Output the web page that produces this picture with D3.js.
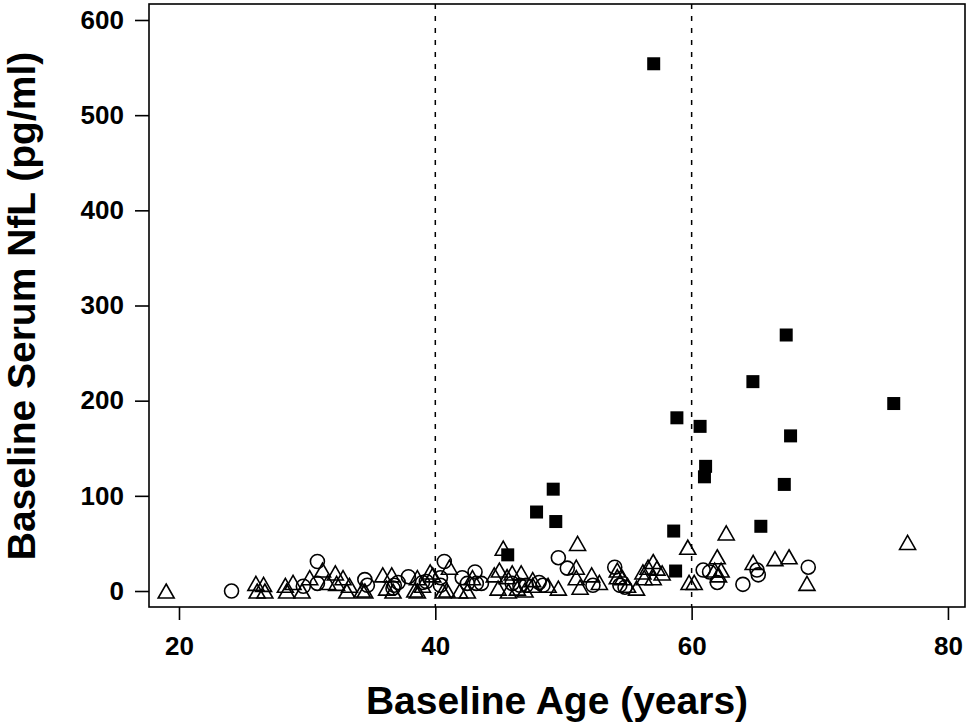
<!DOCTYPE html>
<html><head><meta charset="utf-8">
<script src="https://cdn.jsdelivr.net/npm/d3@7"></script>
<style>body{margin:0;background:#fff}svg{display:block}</style>
</head><body>
<svg id="c" width="970" height="727"></svg>
<script>
// ---- data ----
const xTicks = [20, 40, 60, 80];
const yTicks = [0, 100, 200, 300, 400, 500, 600];
const cutoffs = [40, 60];
const xTitle = "Baseline Age (years)";
const yTitle = "Baseline Serum NfL (pg/ml)";

const squareAge = [45.65, 47.9, 49.2, 49.4, 57.04, 58.6, 58.75, 58.85, 60.66, 61.09, 61.0, 64.78, 65.4, 67.23, 67.38, 67.72, 75.77];
const squareNfl = [38, 83, 107, 73, 554, 63, 21, 182, 173, 131, 120, 220, 68, 112, 269, 163, 197];

const circleAge = [24.1, 29.7, 30.8, 30.8, 34.5, 34.7, 36.8, 37.1, 36.7, 37.9, 39.0, 39.3, 40.4, 40.4, 40.7, 42.1, 42.5, 43.1, 43.2, 43.6, 46.0, 46.6, 47.1, 48.1, 48.4, 49.6, 50.3, 52.3, 54.0, 54.4, 54.8, 60.9, 61.4, 62.0, 64.0, 65.1, 65.2, 69.1];
const circleNfl = [0, 5, 31, 8, 12, 6, 6, 9, 3, 15, 9, 10, 14, 6, 31, 14, 8, 20, 8, 8, 8, 6, 6, 9, 6, 35, 24, 6, 25, 6, 4, 22, 20, 9, 7, 22, 17, 25];

const triAge = [19.0, 26.0, 26.6, 26.1, 26.7, 28.3, 28.9, 28.4, 29.6, 30.2, 31.2, 31.6, 32.2, 32.3, 32.8, 33.3, 33.1, 34.3, 34.5, 35.9, 36.6, 36.2, 36.7, 38.6, 39.0, 38.4, 38.6, 39.6, 39.8, 41.1, 40.9, 40.6, 41.9, 42.5, 42.9, 45.3, 44.6, 45.0, 45.6, 46.0, 46.7, 44.9, 45.7, 46.4, 47.0, 47.6, 47.6, 48.8, 49.6, 51.1, 51.0, 51.0, 51.3, 52.2, 52.8, 54.2, 54.2, 54.6, 55.0, 55.7, 56.2, 56.6, 57.0, 57.3, 57.7, 56.3, 57.0, 59.7, 59.8, 60.2, 62.0, 61.8, 62.3, 62.1, 62.7, 64.8, 66.5, 67.6, 69.0, 76.85];
const triNfl = [0, 8, 7, 0, 0, 6, 9, 0, 0, 14, 22, 9, 19, 8, 14, 6, 0, 1, 0, 17, 17, 3, 0, 14, 6, 1, 0, 20, 17, 25, 1, 0, 0, 0, 14, 45, 17, 22, 15, 19, 19, 3, 0, 3, 1, 12, 6, 6, 3, 50, 25, 14, 4, 17, 9, 22, 15, 14, 6, 3, 20, 25, 31, 24, 19, 14, 14, 46, 9, 9, 36, 22, 22, 17, 61, 30, 34, 36, 8, 51];

// ---- layout ----
const box = {left: 149, right: 965, top: 4, bottom: 607};
const x = d3.scaleLinear().domain([17.66, 81.33]).range([box.left, box.right]);
const y = d3.scaleLinear().domain([-16.8, 616.8]).range([box.bottom, box.top]);
const font = "'Liberation Sans', Arial, Helvetica, sans-serif";

const svg = d3.select("#c");

// dashed cutoff lines
svg.selectAll("line.cut").data(cutoffs).enter().append("line")
  .attr("x1", d => x(d)).attr("x2", d => x(d))
  .attr("y1", box.top).attr("y2", box.bottom)
  .attr("stroke", "#000").attr("stroke-width", 1.5)
  .attr("stroke-dasharray", "5,7");

// x axis
const xAxis = d3.axisBottom(x).tickValues(xTicks).tickSize(13).tickPadding(17).tickFormat(d3.format("d"));
const gx = svg.append("g").attr("transform", `translate(0,${box.bottom})`).call(xAxis);
gx.select(".domain").remove();
gx.selectAll("line").attr("stroke", "#000").attr("stroke-width", 1.6);
gx.selectAll("text").attr("font-family", font).attr("font-weight", "bold").attr("font-size", 26).attr("fill", "#000");

// y axis
const yAxis = d3.axisLeft(y).tickValues(yTicks).tickSize(14).tickPadding(11).tickFormat(d3.format("d"));
const gy = svg.append("g").attr("transform", `translate(${box.left},0)`).call(yAxis);
gy.select(".domain").remove();
gy.selectAll("line").attr("stroke", "#000").attr("stroke-width", 1.6);
gy.selectAll("text").attr("font-family", font).attr("font-weight", "bold").attr("font-size", 26).attr("fill", "#000");

// plot box
svg.append("rect").attr("x", box.left).attr("y", box.top)
  .attr("width", box.right - box.left).attr("height", box.bottom - box.top)
  .attr("fill", "none").attr("stroke", "#000").attr("stroke-width", 1.6);

// points
const tri = d3.range(triAge.length).map(i => ({a: triAge[i], v: triNfl[i]}));
const circ = d3.range(circleAge.length).map(i => ({a: circleAge[i], v: circleNfl[i]}));
const sq = d3.range(squareAge.length).map(i => ({a: squareAge[i], v: squareNfl[i]}));

const tw = 16, th = 14;
svg.append("g").selectAll("path").data(tri).enter().append("path")
  .attr("d", d => {
    const cx = x(d.a), cy = y(d.v);
    return `M${cx},${cy - th / 2}L${cx + tw / 2},${cy + th / 2}L${cx - tw / 2},${cy + th / 2}Z`;
  })
  .attr("fill", "none").attr("stroke", "#000").attr("stroke-width", 1.6).attr("stroke-linejoin", "miter");

svg.append("g").selectAll("circle").data(circ).enter().append("circle")
  .attr("cx", d => x(d.a)).attr("cy", d => y(d.v)).attr("r", 7)
  .attr("fill", "none").attr("stroke", "#000").attr("stroke-width", 1.6);

const ss = 13;
svg.append("g").selectAll("rect").data(sq).enter().append("rect")
  .attr("x", d => x(d.a) - ss / 2).attr("y", d => y(d.v) - ss / 2)
  .attr("width", ss).attr("height", ss).attr("fill", "#000");

// axis titles
svg.append("text").attr("x", (box.left + box.right) / 2).attr("y", 714)
  .attr("text-anchor", "middle").attr("font-family", font).attr("font-weight", "bold")
  .attr("font-size", 39).attr("fill", "#000").text(xTitle);

svg.append("text").attr("transform", `translate(35,306) rotate(-90)`)
  .attr("text-anchor", "middle").attr("font-family", font).attr("font-weight", "bold")
  .attr("font-size", 39).attr("fill", "#000").text(yTitle);
</script>
</body></html>
